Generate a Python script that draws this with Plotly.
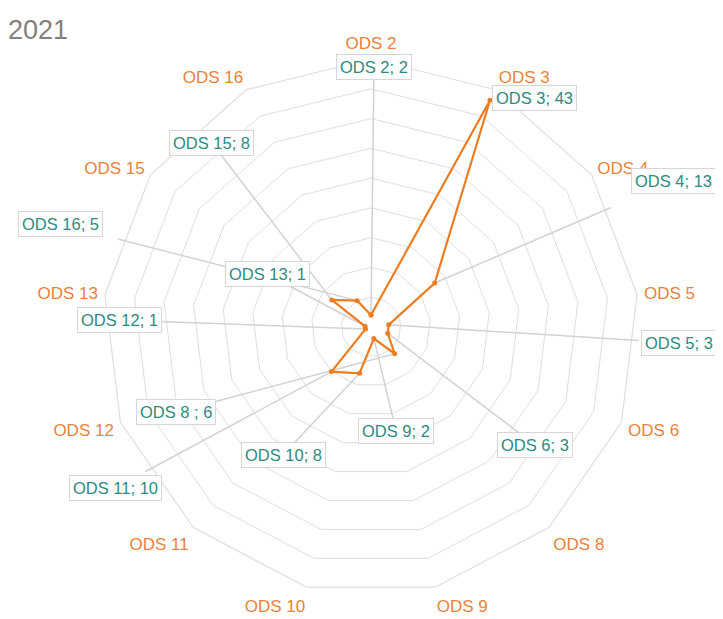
import math
import plotly.graph_objects as go

# --- data ---
categories = ["ODS 2", "ODS 3", "ODS 4", "ODS 5", "ODS 6", "ODS 8", "ODS 9",
              "ODS 10", "ODS 11", "ODS 12", "ODS 13", "ODS 15", "ODS 16"]
values = [2, 43, 13, 3, 3, 6, 2, 8, 10, 1, 1, 8, 5]
data_labels = ["ODS 2; 2", "ODS 3; 43", "ODS 4; 13", "ODS 5; 3", "ODS 6; 3",
               "ODS 8 ; 6", "ODS 9; 2", "ODS 10; 8", "ODS 11; 10", "ODS 12; 1",
               "ODS 13; 1", "ODS 15; 8", "ODS 16; 5"]
title_text = "2021"
r_max = 45
r_step = 5

COLORS = {
    "line": "#EE7D22",
    "cat": "#E8833A",
    "label": "#2E8A80",
    "grid": "#dedede",
    "leader": "#d2d2d2",
    "title": "#808080",
}

# the page body has an 8px margin, so the figure sits 8px in and
# every page-pixel position below is shifted by OFF
OFF = 8
W, H = 723 - OFF, 619 - OFF
CX, CY, R = 371, 327, 268  # polar centre / radius in page pixels

# where the callout boxes sit (page-pixel centres), Excel-style
label_pos = {
    "ODS 2": (374, 67), "ODS 3": (534, 98), "ODS 4": (673, 181),
    "ODS 5": (679, 343), "ODS 6": (535, 445), "ODS 8": (176, 412),
    "ODS 9": (396, 431), "ODS 10": (283, 455), "ODS 11": (115, 488),
    "ODS 12": (119, 320), "ODS 13": (267, 274), "ODS 15": (212, 143),
    "ODS 16": (60, 224),
}

n = len(categories)
angles = [i * 360 / n for i in range(n)]


def to_polar(px, py):
    dx, dy = px - CX, CY - py
    return math.hypot(dx, dy) / R * r_max, math.degrees(math.atan2(dx, dy))


domain = dict(x=[(CX - R - OFF) / W, (CX + R - OFF) / W],
              y=[(H - (CY - OFF) - R) / H, (H - (CY - OFF) + R) / H])

fig = go.Figure()

# invisible trace so the category grid gets its categories
fig.add_trace(go.Scatterpolar(
    r=values, theta=categories, mode="lines", line=dict(width=0),
    opacity=0, hoverinfo="skip", showlegend=False, subplot="polar",
))

# leader lines from the callouts to their points
for cat, val, ang in zip(categories, values, angles):
    lr, lt = to_polar(*label_pos[cat])
    fig.add_trace(go.Scatterpolar(
        r=[lr, val], theta=[lt, ang], mode="lines",
        line=dict(color=COLORS["leader"], width=1.5),
        cliponaxis=False, hoverinfo="skip", showlegend=False, subplot="polar2",
    ))

fig.add_trace(go.Scatterpolar(
    r=values + values[:1], theta=angles + angles[:1],
    mode="lines+markers",
    line=dict(color=COLORS["line"], width=2.2),
    marker=dict(size=5, color=COLORS["line"]),
    cliponaxis=False, showlegend=False, subplot="polar2",
))

for cat, txt in zip(categories, data_labels):
    px, py = label_pos[cat]
    fig.add_annotation(
        x=(px - OFF) / W, y=1 - (py - OFF) / H, xref="paper", yref="paper",
        text=txt, showarrow=False, xanchor="center", yanchor="middle",
        font=dict(family="Liberation Sans, Arial", size=16.5, color=COLORS["label"]),
        bgcolor="white", bordercolor="#d6d6d6", borderwidth=1, borderpad=3,
    )

fig.update_layout(
    width=W, height=H,
    margin=dict(l=0, r=0, t=0, b=0),
    paper_bgcolor="white",
    font=dict(family="Liberation Sans, Arial"),
    title=dict(text=title_text, x=0, xanchor="left", y=1 - (30 - OFF) / H,
               yanchor="middle", font=dict(size=27, color=COLORS["title"])),
    polar=dict(
        domain=domain,
        bgcolor="white",
        gridshape="linear",
        radialaxis=dict(range=[0, r_max], dtick=r_step, showticklabels=False,
                        ticks="", showline=False, gridcolor=COLORS["grid"],
                        gridwidth=1.2),
        angularaxis=dict(rotation=90, direction="clockwise",
                         showgrid=False, showline=True,
                         linecolor=COLORS["grid"], linewidth=1.2,
                         ticks="outside", ticklen=3, tickcolor="rgba(0,0,0,0)",
                         tickfont=dict(size=17, color=COLORS["cat"])),
    ),
    polar2=dict(
        domain=domain,
        bgcolor="rgba(0,0,0,0)",
        radialaxis=dict(range=[0, r_max], visible=False),
        angularaxis=dict(rotation=90, direction="clockwise", thetaunit="degrees",
                         type="linear", visible=False),
    ),
)

fig.write_html("out.html")
